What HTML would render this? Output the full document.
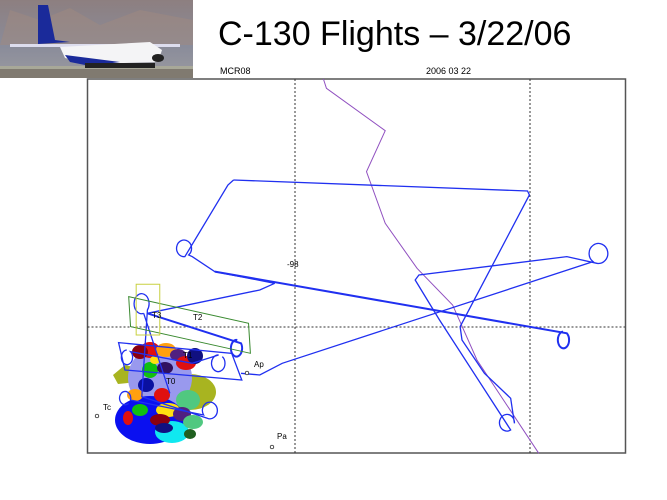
<!DOCTYPE html>
<html><head><meta charset="utf-8"><style>
html,body{margin:0;padding:0;background:#fff;width:667px;height:500px;overflow:hidden}
</style></head><body>
<svg width="667" height="500" xmlns="http://www.w3.org/2000/svg" style="position:absolute;left:0;top:0">
<!-- photo -->
<defs><linearGradient id="sky" x1="0" y1="0" x2="0" y2="1"><stop offset="0" stop-color="#8d7f80"/><stop offset="0.6" stop-color="#8a8c9a"/><stop offset="1" stop-color="#9a9aa0"/></linearGradient></defs>
<rect x="0" y="0" width="193" height="78" fill="url(#sky)"/>
<path d="M10 10 L40 20 L70 8 L100 25 L140 10 L193 20 L193 45 L0 45Z" fill="#a08a80" opacity="0.5"/>
<rect x="0" y="68" width="193" height="10" fill="#807a70"/>
<rect x="0" y="66" width="193" height="3" fill="#a8a898"/>
<path d="M38 5 L48 5 L55 40 L70 42 L38 44Z" fill="#1a2a9a"/>
<path d="M10 44 L180 44 L180 47 L10 47Z" fill="#dde"/>
<path d="M60 47 L150 42 L162 50 L158 62 L90 64 L65 58Z" fill="#f4f4f6"/>
<path d="M65 55 L120 62 L90 66 L70 62Z" fill="#1a2a9a"/>
<ellipse cx="158" cy="58" rx="6" ry="4" fill="#222"/>
<rect x="85" y="63" width="70" height="5" fill="#222"/>
<rect x="193" y="0" width="2" height="78" fill="#fff"/>
<text x="218" y="45" font-family="Liberation Sans, sans-serif" font-size="34" fill="#000">C-130 Flights – 3/22/06</text>
<text x="220" y="74" font-family="Liberation Sans, sans-serif" font-size="9" fill="#000">MCR08</text>
<text x="426" y="74" font-family="Liberation Sans, sans-serif" font-size="9" fill="#000">2006 03 22</text>
<rect x="87.5" y="79" width="538" height="374" fill="#fff" stroke="#555" stroke-width="1.5"/>
<g stroke="#333" stroke-width="1" stroke-dasharray="2,2" fill="none">
<line x1="295" y1="79" x2="295" y2="453"/>
<line x1="530" y1="79" x2="530" y2="453"/>
<line x1="87.5" y1="327" x2="625" y2="327"/>
</g>
<!-- blobs -->
<g>
<ellipse cx="190" cy="392" rx="26" ry="18" fill="#a8b420"/>
<path d="M113 375 L125 365 L138 368 L137 382 L118 384Z" fill="#a8b420"/>
<ellipse cx="160" cy="378" rx="32" ry="32" fill="#9999ee"/>
<ellipse cx="150" cy="420" rx="35" ry="24" fill="#0a10f0"/>
<ellipse cx="172" cy="432" rx="17" ry="11" fill="#10e8f0"/>
<ellipse cx="188" cy="400" rx="12" ry="10" fill="#50c880"/>
<ellipse cx="150" cy="350" rx="10" ry="8" fill="#e01010"/>
<ellipse cx="166" cy="350" rx="10" ry="7" fill="#ffa010"/>
<ellipse cx="140" cy="352" rx="8" ry="7" fill="#8a0010"/>
<ellipse cx="178" cy="355" rx="8" ry="6" fill="#502080"/>
<ellipse cx="186" cy="363" rx="10" ry="7" fill="#e01010"/>
<ellipse cx="195" cy="356" rx="8" ry="8" fill="#101080"/>
<ellipse cx="150" cy="370" rx="8" ry="8" fill="#10c010"/>
<ellipse cx="165" cy="368" rx="8" ry="6" fill="#301060"/>
<ellipse cx="146" cy="385" rx="8" ry="7" fill="#0a10a0"/>
<ellipse cx="135" cy="395" rx="8" ry="6" fill="#ffa010"/>
<ellipse cx="162" cy="395" rx="8" ry="7" fill="#e01010"/>
<ellipse cx="168" cy="410" rx="12" ry="7" fill="#ffe010"/>
<ellipse cx="182" cy="414" rx="9" ry="7" fill="#502080"/>
<ellipse cx="160" cy="420" rx="10" ry="6" fill="#8a0010"/>
<ellipse cx="140" cy="410" rx="8" ry="6" fill="#10c010"/>
<ellipse cx="128" cy="418" rx="5" ry="7" fill="#e01010"/>
<ellipse cx="164" cy="428" rx="9" ry="5" fill="#101080"/>
<ellipse cx="193" cy="422" rx="10" ry="7" fill="#50c880"/>
<ellipse cx="190" cy="434" rx="6" ry="5" fill="#206020"/>
<ellipse cx="155" cy="360" rx="5" ry="4" fill="#ffe010"/>
</g>
<!-- tracks in zoom coords -->
<g transform="translate(80,60) scale(0.3745,0.3333)" fill="none">
<path vector-effect="non-scaling-stroke" stroke="#9050c0" stroke-width="1" d="M650 57 L658 85 L815 212 L765 335 L815 490 L900 625 L995 735 L1060 900 L1225 1180"/>
<g stroke="#2030f0" stroke-width="1.3">
<path vector-effect="non-scaling-stroke" d="M520 670 L480 690 L180 760 M410 360 L1195 393 L1200 405 L1015 800 L1020 840 L1080 940 L1150 1015 L1160 1090 A20 25 0 1 0 1150 1110 L960 780 L895 660 L905 645 L1300 590 L1380 610 A25 30 0 1 0 1370 605 L540 910 L480 945 L430 940"/>
<path vector-effect="non-scaling-stroke" d="M410 360 L395 375 L280 590 A20 25 0 1 1 290 585 L300 590 L360 635 L520 670"/>
<path vector-effect="non-scaling-stroke" stroke-width="2" d="M360 635 L1300 820 A15 25 0 1 1 1290 815"/>
<path vector-effect="non-scaling-stroke" stroke-width="2" d="M180 760 L430 850 A15 25 0 1 1 420 840"/>
<path vector-effect="non-scaling-stroke" d="M170 760 A20 30 0 1 1 180 750 L165 1010 L340 1075 A20 25 0 1 0 330 1065 L135 1020 A15 20 0 1 0 130 1030 M380 890 A18 25 0 1 1 370 885 L300 910 M125 870 A15 22 0 1 0 135 875 L300 910 M170 760 L240 1000"/>
<path vector-effect="non-scaling-stroke" d="M103 848 L405 880 L432 960 L120 930Z"/>
</g>
<path vector-effect="non-scaling-stroke" stroke="#3a8a30" stroke-width="1" d="M130 710 L450 790 L455 880 L135 800Z"/>
<path vector-effect="non-scaling-stroke" stroke="#c8d040" stroke-width="1" d="M150 673 L213 673 L213 825 L150 825Z"/>
</g>
<g font-family="Liberation Sans, sans-serif" font-size="8" fill="#000">
<text x="287" y="267">-98</text>
<text x="152" y="318">T3</text>
<text x="193" y="320">T2</text>
<text x="183" y="358">T1</text>
<text x="166" y="384">T0</text>
<text x="254" y="367">Ap</text>
<text x="103" y="410">Tc</text>
<text x="277" y="439">Pa</text>
</g>
<g fill="#fff" stroke="#000" stroke-width="0.7">
<circle cx="247" cy="373" r="1.8"/><circle cx="97" cy="416" r="1.8"/><circle cx="272" cy="447" r="1.8"/>
</g>
</svg>
</body></html>
